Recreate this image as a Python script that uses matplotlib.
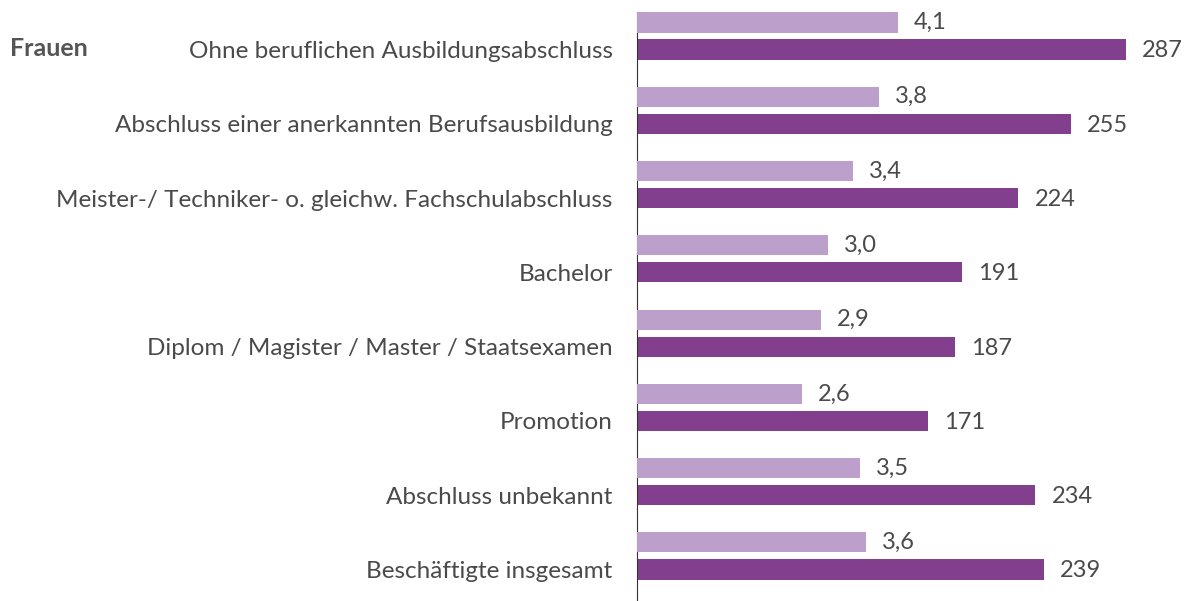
import numpy as np
import matplotlib.pyplot as plt

categories = [
    'Ohne beruflichen Ausbildungsabschluss',
    'Abschluss einer anerkannten Berufsausbildung',
    'Meister-/ Techniker- o. gleichw. Fachschulabschluss',
    'Bachelor',
    'Diplom / Magister / Master / Staatsexamen',
    'Promotion',
    'Abschluss unbekannt',
    'Beschäftigte insgesamt',
]
light_vals = [4.1, 3.8, 3.4, 3.0, 2.9, 2.6, 3.5, 3.6]
dark_vals = [287, 255, 224, 191, 187, 171, 234, 239]

light_col = '#bd9fcc'
dark_col = '#813f8d'
txt_col = '#4a4a4a'

plt.rcParams['font.family'] = ['Lato', 'DejaVu Sans']

fig = plt.figure(figsize=(11.87, 6.01), dpi=100)
ax = fig.add_axes([637 / 1187, 0, 550 / 1187, 589 / 601])
ax2 = ax.twiny()

y = np.arange(len(categories))
off = 0.182
h = 0.27

ax.barh(y + off, dark_vals, height=h, color=dark_col)
ax2.barh(y - off, light_vals, height=h, color=light_col)

ax.set_xlim(0, 323)
ax2.set_xlim(0, 8.65)
ax.set_ylim(7.606, -0.323)

for yi, v in zip(y, dark_vals):
    ax.annotate(str(v), (v, yi + off), xytext=(11.5, -1), textcoords='offset points',
                va='center', ha='left', fontsize=17, color=txt_col)
for yi, v in zip(y, light_vals):
    ax2.annotate(f'{v:.1f}'.replace('.', ','), (v, yi - off), xytext=(11.5, 0),
                 textcoords='offset points', va='center', ha='left', fontsize=17,
                 color=txt_col)

ax.set_yticks(y + off)
ax.set_yticklabels(categories, fontsize=17.5, color=txt_col)
ax.tick_params(axis='y', length=0, pad=17.5)

for a in (ax, ax2):
    a.set_xticks([])
    for s in ('top', 'right', 'bottom'):
        a.spines[s].set_visible(False)
ax.spines['left'].set_color('#333333')
ax2.spines['left'].set_visible(False)

fig.text(10 / 1187, 1 - 48 / 601, 'Frauen', fontsize=18, fontweight='bold',
         color='#555555', va='center', ha='left')

fig.savefig('out.png', dpi=100)
